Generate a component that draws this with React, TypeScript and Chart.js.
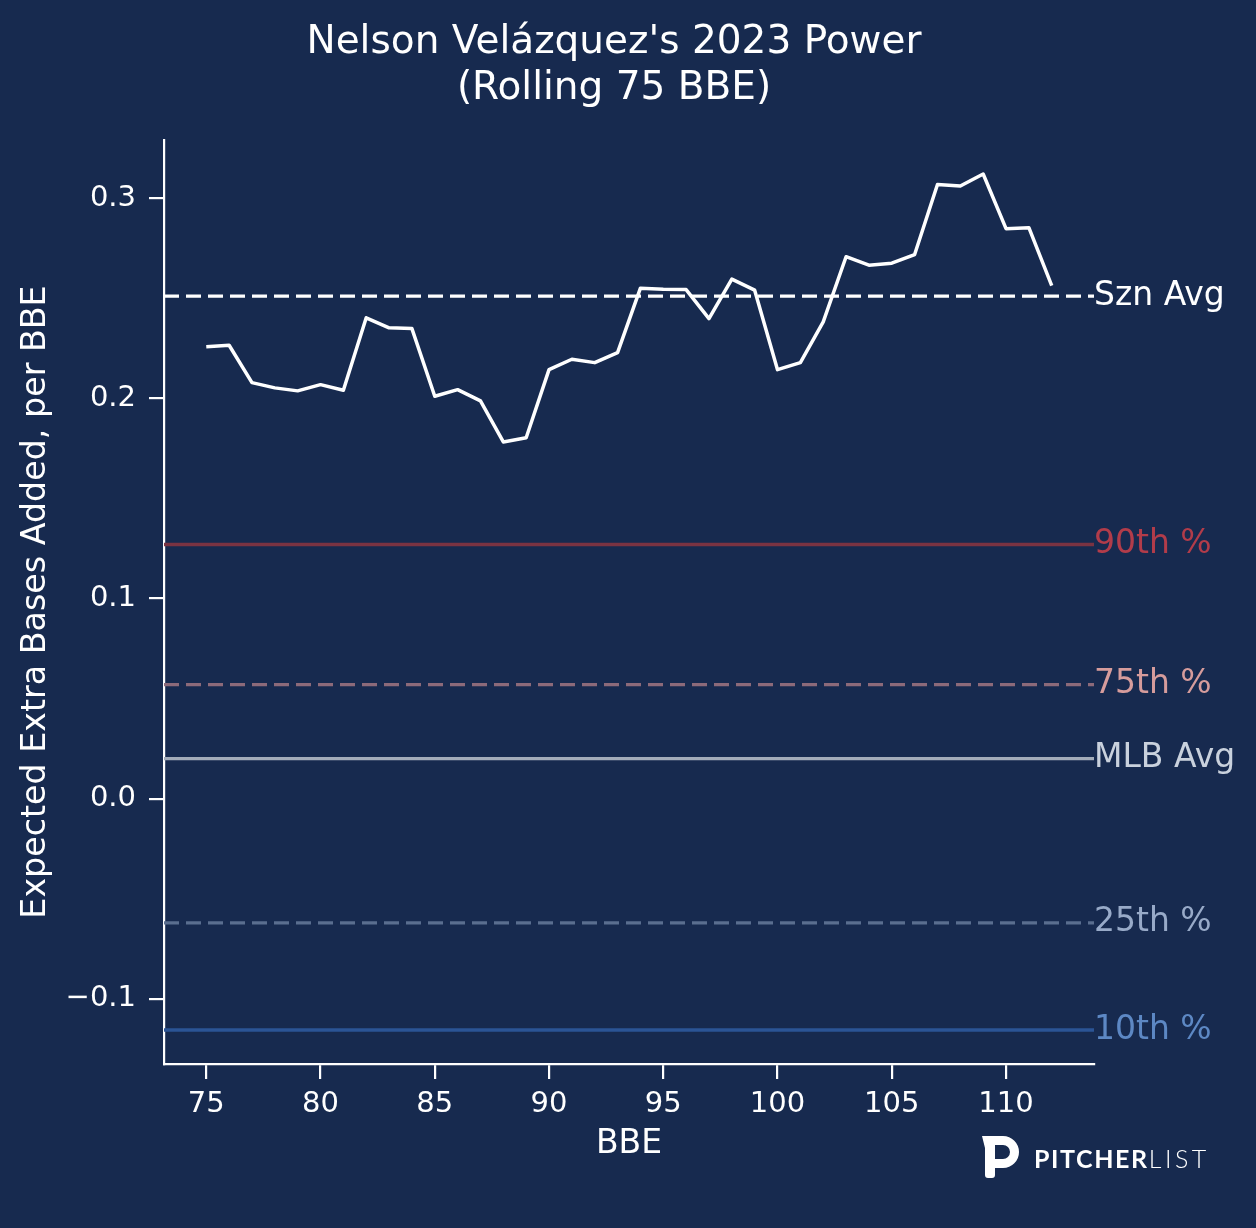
import React, { useEffect, useRef } from 'react';
import { Chart, registerables } from 'chart.js';

Chart.register(...registerables);

// ---- data ----
const BBE = [75, 76, 77, 78, 79, 80, 81, 82, 83, 84, 85, 86, 87, 88, 89, 90, 91, 92, 93, 94, 95, 96, 97, 98, 99, 100, 101, 102, 103, 104, 105, 106, 107, 108, 109, 110, 111, 112];
const XEBA = [0.2257, 0.2265, 0.2078, 0.2052, 0.2037, 0.2068, 0.204, 0.2402, 0.2352, 0.2348, 0.201, 0.2043, 0.1987, 0.1782, 0.1803, 0.2143, 0.2195, 0.2178, 0.2228, 0.255, 0.2545, 0.2543, 0.2398, 0.2595, 0.254, 0.2143, 0.2178, 0.2382, 0.2707, 0.2665, 0.2675, 0.2718, 0.3068, 0.306, 0.312, 0.2847, 0.2852, 0.2563];
const REF_LABELS = ['Szn Avg', '90th %', '75th %', 'MLB Avg', '25th %', '10th %'];
const REF_VALUES = [0.251, 0.127, 0.057, 0.02, -0.062, -0.1155];
const X_TICKS = [75, 80, 85, 90, 95, 100, 105, 110];
const Y_TICKS = [-0.1, 0, 0.1, 0.2, 0.3];
const X_MIN = 73.15;
const X_MAX = 113.85;
const Y_MIN = -0.1325;
const Y_MAX = 0.329;
const TITLE_LINES = ["Nelson Velázquez's 2023 Power", '(Rolling 75 BBE)'];
const X_TITLE = 'BBE';
const Y_TITLE = 'Expected Extra Bases Added, per BBE';

// ---- styles ----
const BG = '#172a4f';
const REF_LINE_COLORS = ['#ffffff', '#7a3342', '#8c6a7a', '#a3acba', '#5a6e8f', '#2b5495'];
const REF_TEXT_COLORS = ['#ffffff', '#b23c4a', '#d69c9c', '#c9d1dd', '#98aac8', '#5d88c4'];
const REF_DASH = [[15, 7], [], [15, 7], [], [15, 7], []];
const FONT = '"DejaVu Sans", sans-serif';

const decor = {
  id: 'decor',
  beforeDraw(chart: any) {
    const ctx = chart.ctx;
    ctx.save();
    ctx.fillStyle = BG;
    ctx.fillRect(0, 0, chart.width, chart.height);
    ctx.restore();
  },
  afterDraw(chart: any) {
    const ctx = chart.ctx;
    const area = chart.chartArea;
    const ys = chart.scales.y;
    ctx.save();
    // title
    ctx.fillStyle = '#ffffff';
    ctx.font = `39px ${FONT}`;
    ctx.textAlign = 'center';
    ctx.textBaseline = 'alphabetic';
    TITLE_LINES.forEach((t, i) => ctx.fillText(t, 614, 53 + i * 46));
    // reference labels
    ctx.font = `33px ${FONT}`;
    ctx.textAlign = 'left';
    ctx.textBaseline = 'middle';
    REF_LABELS.forEach((lab, i) => {
      ctx.fillStyle = REF_TEXT_COLORS[i];
      ctx.fillText(lab, area.right, ys.getPixelForValue(REF_VALUES[i]));
    });
    // logo
    ctx.fillStyle = '#ffffff';
    ctx.beginPath();
    ctx.moveTo(982, 1136);
    ctx.lineTo(1003, 1136);
    ctx.arc(1003, 1152, 16, -Math.PI / 2, Math.PI / 2);
    ctx.lineTo(995, 1168);
    ctx.lineTo(995, 1175);
    ctx.quadraticCurveTo(995, 1178, 992, 1178);
    ctx.lineTo(988, 1178);
    ctx.quadraticCurveTo(985, 1178, 985, 1175);
    ctx.lineTo(985, 1148);
    ctx.closePath();
    ctx.moveTo(995, 1145);
    ctx.lineTo(1003, 1145);
    ctx.arc(1003, 1152, 7, -Math.PI / 2, Math.PI / 2);
    ctx.lineTo(995, 1159);
    ctx.closePath();
    ctx.fill('evenodd');
    ctx.textAlign = 'left';
    ctx.textBaseline = 'middle';
    ctx.font = 'bold 25px Lato, "Open Sans", sans-serif';
    (ctx as any).letterSpacing = '1.6px';
    ctx.fillText('PITCHER', 1034, 1160);
    const w = ctx.measureText('PITCHER').width;
    ctx.font = '300 25px Lato, "Open Sans", sans-serif';
    (ctx as any).letterSpacing = '3.5px';
    ctx.fillText('LIST', 1034 + w, 1160);
    ctx.restore();
  },
};

function fmtY(v: number) {
  if (Math.abs(v) < 1e-9) return '0.0';
  return v < 0 ? '\u2212' + Math.abs(v).toFixed(1) : v.toFixed(1);
}

export default function App() {
  const ref = useRef<HTMLCanvasElement | null>(null);
  useEffect(() => {
    if (!ref.current) return;
    const datasets: any[] = [
      {
        data: BBE.map((x, i) => ({ x, y: XEBA[i] })),
        borderColor: '#ffffff',
        borderWidth: 3.5,
        pointRadius: 0,
        borderJoinStyle: 'round',
        tension: 0,
      },
    ];
    REF_VALUES.forEach((v, i) => {
      datasets.push({
        data: [
          { x: X_MIN, y: v },
          { x: X_MAX, y: v },
        ],
        borderColor: REF_LINE_COLORS[i],
        borderWidth: 3.4,
        borderDash: REF_DASH[i],
        pointRadius: 0,
      });
    });
    const tickGrid = {
      display: true,
      drawOnChartArea: false,
      drawTicks: true,
      tickLength: 15,
      tickWidth: 2.2,
      tickColor: '#ffffff',
      color: '#ffffff',
      lineWidth: 2.2,
    };
    const chart = new Chart(ref.current, {
      type: 'line',
      data: { datasets },
      options: {
        responsive: false,
        animation: false,
        devicePixelRatio: 1,
        layout: { padding: { left: 0, top: 140, right: 162, bottom: 0 }, autoPadding: false } as any,
        plugins: { legend: { display: false }, tooltip: { enabled: false }, title: { display: false } },
        scales: {
          x: {
            type: 'linear',
            min: X_MIN,
            max: X_MAX,
            afterBuildTicks: (s: any) => {
              s.ticks = X_TICKS.map((value) => ({ value }));
            },
            afterFit: (s: any) => {
              s.height = 164;
            },
            grid: tickGrid as any,
            border: { display: true, color: '#ffffff', width: 2.2 },
            ticks: {
              color: '#ffffff',
              font: { family: FONT, size: 29 },
              padding: 8,
              maxRotation: 0,
              autoSkip: false,
              callback: (v: any) => String(v),
            },
            title: { display: true, text: X_TITLE, color: '#ffffff', font: { family: FONT, size: 33 }, padding: { top: 0, bottom: 64 } },
          },
          y: {
            type: 'linear',
            min: Y_MIN,
            max: Y_MAX,
            afterBuildTicks: (s: any) => {
              s.ticks = Y_TICKS.map((value) => ({ value }));
            },
            afterFit: (s: any) => {
              s.width = 164;
            },
            grid: tickGrid as any,
            border: { display: true, color: '#ffffff', width: 2.2 },
            ticks: {
              color: '#ffffff',
              font: { family: FONT, size: 29 },
              padding: 13,
              autoSkip: false,
              callback: (v: any) => fmtY(Number(v)),
            },
            title: { display: true, text: Y_TITLE, color: '#ffffff', font: { family: FONT, size: 33.3 }, padding: { top: 16, bottom: 0 } },
          },
        },
      },
      plugins: [decor],
    } as any);
    return () => chart.destroy();
  }, []);
  return (
    <div style={{ position: 'fixed', left: 0, top: 0, width: 1256, height: 1228, background: BG }}>
      <canvas ref={ref} width={1256} height={1228} style={{ display: 'block', width: 1256, height: 1228 }} />
    </div>
  );
}
